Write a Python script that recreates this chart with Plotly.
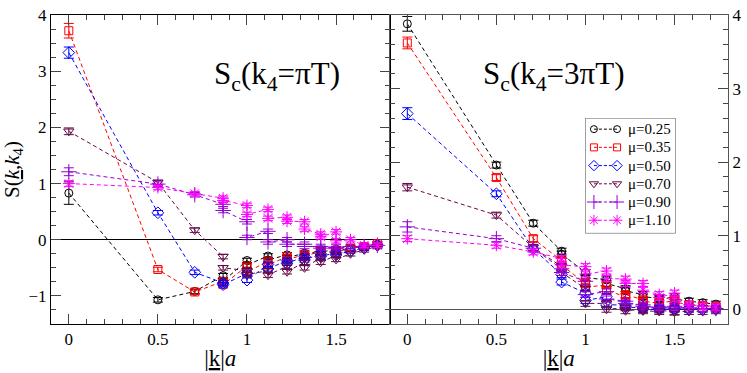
import plotly.graph_objects as go

# |k|a positions (some momenta appear twice, one entry per point)
k_a = [0, 0.5, 0.707, 0.866, 0.866, 1.0, 1.0, 1.118, 1.118, 1.225, 1.225,
       1.323, 1.323, 1.414, 1.414, 1.5, 1.5, 1.581, 1.658, 1.732]

mu_labels = ["μ=0.25", "μ=0.35", "μ=0.50", "μ=0.70", "μ=0.90", "μ=1.10"]

# left panel: S_c(k4 = pi T)
s_pit = [
    [0.83, -1.07, -0.92, -0.64, -0.74, -0.37, -0.45, -0.29, -0.36, -0.27, -0.32,
     -0.24, -0.28, -0.18, -0.22, -0.17, -0.2, -0.15, -0.12, -0.08],
    [3.72, -0.53, -0.93, -0.74, -0.8, -0.47, -0.58, -0.38, -0.45, -0.3, -0.36,
     -0.26, -0.3, -0.2, -0.25, -0.19, -0.22, -0.15, -0.12, -0.07],
    [3.33, 0.48, -0.58, -0.77, -0.8, -0.6, -0.72, -0.44, -0.52, -0.37, -0.42,
     -0.3, -0.36, -0.25, -0.3, -0.23, -0.27, -0.2, -0.15, -0.1],
    [1.93, 1.02, 0.17, -0.3, -0.5, -0.55, -0.62, -0.55, -0.63, -0.47, -0.57,
     -0.4, -0.5, -0.32, -0.4, -0.28, -0.35, -0.25, -0.18, -0.12],
    [1.21, 0.99, 0.8, 0.63, 0.52, 0.32, 0.04, 0.15, -0.04, 0.0, -0.08,
     -0.08, -0.12, -0.12, -0.15, -0.13, -0.16, -0.12, -0.12, -0.1],
    [1.0, 0.93, 0.82, 0.74, 0.7, 0.61, 0.45, 0.54, 0.38, 0.4, 0.33,
     0.32, 0.19, 0.1, 0.05, 0.14, -0.02, 0.0, -0.1, -0.1],
]
err_pit_0 = [0.2, 0.13, 0.1, 0.06, 0.07, 0.05]

# right panel: S_c(k4 = 3 pi T)
s_3pit = [
    [3.88, 1.96, 1.17, 0.79, 0.75, 0.5, 0.43, 0.4, 0.35, 0.28, 0.25,
     0.2, 0.17, 0.15, 0.13, 0.17, 0.14, 0.11, 0.09, 0.07],
    [3.62, 1.79, 0.96, 0.66, 0.6, 0.35, 0.3, 0.33, 0.26, 0.17, 0.2,
     0.13, 0.11, 0.09, 0.08, 0.12, 0.1, 0.06, 0.05, 0.04],
    [2.66, 1.57, 0.82, 0.47, 0.37, 0.22, 0.12, 0.17, 0.06, 0.06, 0.03,
     0.02, 0.0, 0.0, 0.01, 0.0, 0.01, 0.0, 0.0, 0.0],
    [1.66, 1.28, 0.84, 0.58, 0.5, 0.28, 0.08, 0.08, 0.0, 0.02, -0.02,
     0.0, -0.02, -0.03, -0.01, -0.04, -0.03, -0.03, -0.03, -0.02],
    [1.12, 0.96, 0.83, 0.55, 0.5, 0.38, 0.2, 0.24, 0.14, 0.11, 0.08,
     0.06, 0.04, 0.02, 0.03, 0.04, 0.02, 0.02, 0.01, 0.01],
    [0.96, 0.87, 0.78, 0.69, 0.6, 0.58, 0.48, 0.52, 0.42, 0.41, 0.35,
     0.35, 0.26, 0.2, 0.16, 0.22, 0.14, 0.06, 0.04, 0.03],
]
err_3pit_0 = [0.1, 0.08, 0.08, 0.05, 0.07, 0.04]
err_rest = 0.04

colors = ["#000000", "#ff0000", "#0000ff", "#670748", "#9400d3", "#ff00ff"]
symbols = ["circle-open", "square-open", "diamond-open", "triangle-down-open",
           "cross-thin-open", "asterisk-open"]
sizes = [8, 8, 9, 9, 11, 10]

FONT = "Liberation Serif"

fig = go.Figure()

for panel, (data, err0) in enumerate([(s_pit, err_pit_0), (s_3pit, err_3pit_0)]):
    xa = "x" if panel == 0 else "x2"
    ya = "y" if panel == 0 else "y2"
    for i, ys in enumerate(data):
        errs = [err0[i]] + [err_rest] * (len(ys) - 1)
        fig.add_trace(go.Scatter(
            x=k_a, y=ys, xaxis=xa, yaxis=ya,
            mode="lines+markers",
            name=mu_labels[i],
            showlegend=False,
            line=dict(color=colors[i], width=1, dash="4px,3px"),
            marker=dict(symbol=symbols[i], size=sizes[i], color=colors[i],
                        line=dict(color=colors[i], width=1)),
            error_y=dict(type="data", array=errs, color=colors[i],
                         thickness=1, width=5),
        ))

# grace-style legend box (symbol - - symbol  label), drawn on a hidden helper axis
# helper axis units: pixels inside the legend box, y measured from the top
box_w, box_h = 91, 121
row_gap = 19.1
for i in range(len(mu_labels)):
    row = 11.7 + row_gap * i
    fig.add_trace(go.Scatter(
        x=[8.7, 32], y=[row, row], xaxis="x3", yaxis="y3",
        mode="lines+markers", showlegend=False, hoverinfo="skip",
        line=dict(color=colors[i], width=1, dash="3px,2px"),
        marker=dict(symbol=symbols[i], size=sizes[i] - 1, color=colors[i],
                    line=dict(color=colors[i], width=1)),
    ))
    fig.add_annotation(text=mu_labels[i], xref="x3", yref="y3", x=41, y=row,
                       xanchor="left", yanchor="middle", showarrow=False,
                       font=dict(family=FONT, size=15, color="black"))

fig.add_shape(type="rect", xref="x3", yref="y3", x0=0, x1=box_w, y0=0, y1=box_h,
              line=dict(color="#555555", width=1), fillcolor="white", layer="below")

axis_common = dict(
    ticks="inside", ticklen=10, tickwidth=1, showline=True, linewidth=1,
    mirror="ticks", showgrid=False, ticklabeloverflow="allow",
    tickfont=dict(family=FONT, size=17, color="black"),
)

fig.update_layout(
    width=747, height=373,
    margin=dict(l=50, r=15, t=6, b=43),
    plot_bgcolor="white", paper_bgcolor="white",
    font=dict(family=FONT, color="black"),
    showlegend=False,
    xaxis=dict(domain=[0, 0.5], range=[-0.1, 1.8], dtick=0.5, zeroline=False,
               linecolor="black",
               minor=dict(dtick=0.1, ticks="inside", ticklen=5),
               title=dict(text="|<u>k</u>|<i>a</i>", font=dict(family=FONT, size=23),
                          standoff=1),
               **axis_common),
    yaxis=dict(range=[-1.5, 4], dtick=1, zeroline=True, zerolinecolor="black",
               zerolinewidth=1, linecolor="black", anchor="x",
               minor=dict(dtick=0.25, ticks="inside", ticklen=5),
               title=dict(text="S(<u><i>k</i></u>,<i>k</i><sub>4</sub>)",
                          font=dict(family=FONT, size=21), standoff=8),
               **axis_common),
    xaxis2=dict(domain=[0.5, 1], range=[-0.1, 1.8], dtick=0.5, zeroline=False,
                linecolor="#555555", anchor="y2",
                minor=dict(dtick=0.1, ticks="inside", ticklen=5),
                title=dict(text="|<u>k</u>|<i>a</i>", font=dict(family=FONT, size=23),
                           standoff=1),
                **axis_common),
    yaxis2=dict(range=[-0.2, 4], dtick=1, zeroline=True, zerolinecolor="#555555",
                zerolinewidth=1, linecolor="#555555", anchor="x2", side="right",
                minor=dict(dtick=0.2, ticks="inside", ticklen=5),
                **axis_common),
    xaxis3=dict(domain=[0.7892, 0.9227], range=[0, box_w], visible=False,
                fixedrange=True, anchor="y3"),
    yaxis3=dict(domain=[0.2932, 0.6667], range=[box_h, 0], visible=False,
                fixedrange=True, anchor="x3"),
)

fig.add_annotation(text="S<sub>c</sub>(k<sub>4</sub>=πT)", xref="x", yref="y",
                   x=1.17, y=2.92, showarrow=False,
                   font=dict(family=FONT, size=31, color="black"))
fig.add_annotation(text="S<sub>c</sub>(k<sub>4</sub>=3πT)", xref="x2", yref="y2",
                   x=0.82, y=3.17, showarrow=False,
                   font=dict(family=FONT, size=31, color="black"))

fig.write_html("out.html", config={"displayModeBar": False},
               post_script="document.body.style.margin='0';")
